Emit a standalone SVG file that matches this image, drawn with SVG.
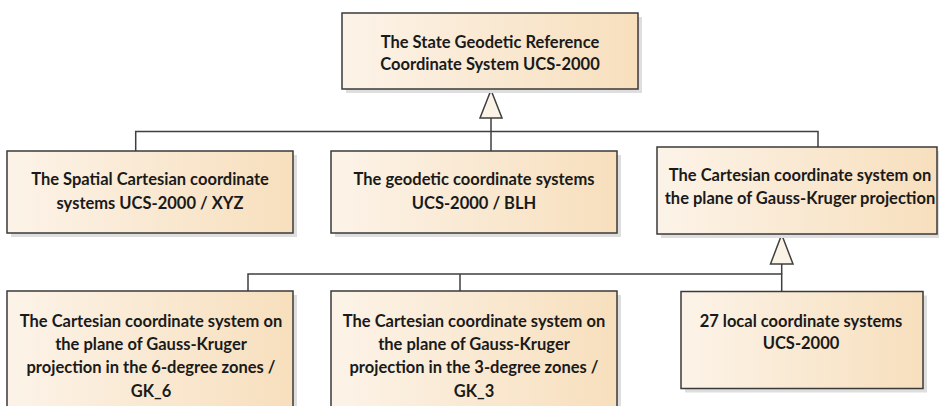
<svg xmlns="http://www.w3.org/2000/svg" width="939" height="406" viewBox="0 0 939 406">
<defs>
<linearGradient id="g" x1="0" y1="0" x2="1" y2="0">
<stop offset="0" stop-color="#fcf3e8"/>
<stop offset="1" stop-color="#f7dfbd"/>
</linearGradient>
</defs>
<style>
.box{fill:url(#g);stroke:#3a3a3a;stroke-width:1.5}
.sh{fill:#dedede}
.t{font-family:Lato,"Liberation Sans",sans-serif;font-weight:bold;font-size:16.5px;fill:#1a1a1a;text-anchor:middle}
.c{stroke:#3f3f3f;stroke-width:1.5;fill:none}
.tri{fill:#fbf3e6;stroke:#3f3f3f;stroke-width:1.5}
</style>
<rect width="939" height="406" fill="#fff"/>
<g id="connectors">
<polyline class="c" points="491,118 491,131.5"/>
<polyline class="c" points="135.7,151 135.7,131.5 818,131.5 818,147"/>
<polyline class="c" points="491,131.5 491,151"/>
<polygon class="tri" points="491,90 480,118 502,118"/>
<polyline class="c" points="781.7,264 781.7,274"/>
<polyline class="c" points="248,291 248,274 781.7,274 781.7,291"/>
<polyline class="c" points="460,274 460,291"/>
<polygon class="tri" points="781.7,234.5 770.5,264 793,264"/>
</g>
<g id="root">
<rect class="sh" x="346" y="17" width="296" height="76"/>
<rect class="box" x="342" y="13" width="296" height="76"/>
<text class="t" x="490" y="47.5">The State Geodetic Reference</text>
<text class="t" x="490" y="70">Coordinate System UCS-2000</text>
</g>
<g id="spatial">
<rect class="sh" x="11" y="155" width="286" height="82"/>
<rect class="box" x="7" y="151" width="286" height="82"/>
<text class="t" x="150" y="185">The Spatial Cartesian coordinate</text>
<text class="t" x="150" y="208.5">systems UCS-2000 / XYZ</text>
</g>
<g id="geodetic">
<rect class="sh" x="335" y="155" width="286" height="82"/>
<rect class="box" x="331" y="151" width="286" height="82"/>
<text class="t" x="474" y="185">The geodetic coordinate systems</text>
<text class="t" x="474" y="208.5">UCS-2000 / BLH</text>
</g>
<g id="gk">
<rect class="sh" x="661" y="151" width="280" height="87"/>
<rect class="box" x="657" y="147" width="280" height="87"/>
<text class="t" x="800" y="181">The Cartesian coordinate system on</text>
<text class="t" x="800" y="204">the plane of Gauss-Kruger projection</text>
</g>
<g id="gk6">
<rect class="sh" x="11" y="295" width="286" height="130"/>
<rect class="box" x="7" y="291" width="286" height="130"/>
<text class="t" x="151" y="326.5">The Cartesian coordinate system on</text>
<text class="t" x="151" y="349.5">the plane of Gauss-Kruger</text>
<text class="t" x="151" y="373">projection in the 6-degree zones /</text>
<text class="t" x="151" y="396.5">GK_6</text>
</g>
<g id="gk3">
<rect class="sh" x="335" y="295" width="286" height="130"/>
<rect class="box" x="331" y="291" width="286" height="130"/>
<text class="t" x="474" y="326.5">The Cartesian coordinate system on</text>
<text class="t" x="474" y="349.5">the plane of Gauss-Kruger</text>
<text class="t" x="474" y="373">projection in the 3-degree zones /</text>
<text class="t" x="474" y="396.5">GK_3</text>
</g>
<g id="local">
<rect class="sh" x="685" y="295.5" width="242" height="97"/>
<rect class="box" x="681" y="291.5" width="242" height="97"/>
<text class="t" x="801" y="326.5">27 local coordinate systems</text>
<text class="t" x="801" y="348.5">UCS-2000</text>
</g>
</svg>
